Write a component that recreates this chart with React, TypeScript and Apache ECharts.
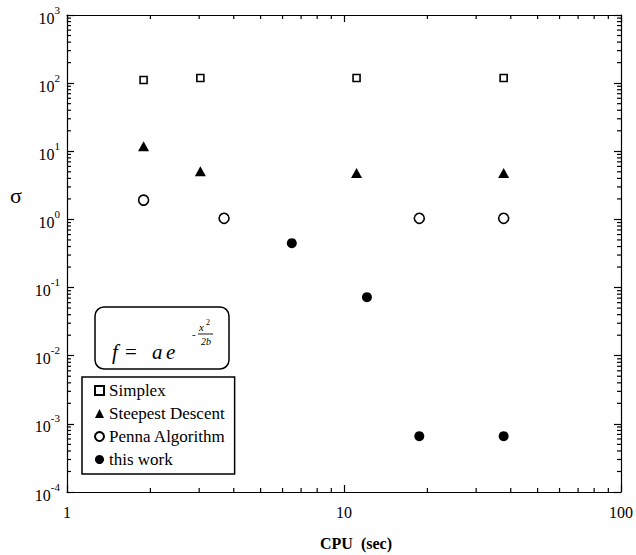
import React, { useEffect, useRef } from "react";
import * as echarts from "echarts";

const seriesNames = ["Simplex", "Steepest Descent", "Penna Algorithm", "this work"];
const cpuSimplex = [1.89, 3.03, 11.1, 37.7];
const sigmaSimplex = [111, 119, 119, 119];
const cpuSteepest = [1.89, 3.03, 11.1, 37.7];
const sigmaSteepest = [11.9, 5.1, 4.8, 4.8];
const cpuPenna = [1.89, 3.69, 18.7, 37.7];
const sigmaPenna = [1.92, 1.04, 1.04, 1.04];
const cpuThisWork = [6.48, 12.1, 18.7, 37.7];
const sigmaThisWork = [0.449, 0.0723, 0.00066, 0.00066];

const xMin = 1;
const xMax = 100;
const yMin = 1e-4;
const yMax = 1e3;
const xDecades = [1, 10];
const yDecades = [1e-4, 1e-3, 1e-2, 1e-1, 1, 10, 100];
const minorSteps = [2, 3, 4, 5, 6, 7, 8, 9];

const SERIF = "'Liberation Serif', 'Times New Roman', serif";

function zip(xs: number[], ys: number[]) {
  return xs.map((x, i) => [x, ys[i]]);
}

export default function App() {
  const ref = useRef<HTMLDivElement>(null);
  useEffect(() => {
    if (!ref.current) return;
    const chart = echarts.init(ref.current, undefined, { renderer: "svg" });

    const xMinor: number[][] = [];
    xDecades.forEach((d) => minorSteps.forEach((s) => xMinor.push([d * s, yMin])));
    const yMinor: number[][] = [];
    yDecades.forEach((d) => minorSteps.forEach((s) => yMinor.push([xMin, d * s])));

    const lineStyle = { color: "#000", width: 1.2 };
    const tickStyle = { show: true, inside: true, length: 7, lineStyle: { color: "#000", width: 1.2 } };

    const yLabel = (v: number) => {
      const e = Math.round(Math.log10(v));
      return "{b|10}{s|" + e + "}";
    };

    const option: any = {
      animation: false,
      backgroundColor: "#fff",
      grid: { left: 67, top: 15, right: 12, bottom: 63, containLabel: false },
      xAxis: [
        {
          type: "log", logBase: 10, min: xMin, max: xMax, interval: 1, position: "bottom",
          axisLine: { show: true, lineStyle },
          axisTick: tickStyle,
          splitLine: { show: false },
          axisLabel: { fontFamily: SERIF, fontSize: 16, color: "#000", margin: 12 },
        },
        {
          type: "log", logBase: 10, min: xMin, max: xMax, interval: 1, position: "top",
          axisLine: { show: true, lineStyle },
          axisTick: tickStyle,
          splitLine: { show: false },
          axisLabel: { show: false },
        },
      ],
      yAxis: [
        {
          type: "log", logBase: 10, min: yMin, max: yMax, interval: 1, position: "left",
          axisLine: { show: true, lineStyle },
          axisTick: tickStyle,
          splitLine: { show: false },
          axisLabel: {
            formatter: yLabel,
            margin: 7,
            rich: {
              b: { fontFamily: SERIF, fontSize: 16, color: "#000", lineHeight: 22, verticalAlign: "bottom" },
              s: { fontFamily: SERIF, fontSize: 11, color: "#000", lineHeight: 22, verticalAlign: "top" },
            },
          },
        },
        {
          type: "log", logBase: 10, min: yMin, max: yMax, interval: 1, position: "right",
          axisLine: { show: true, lineStyle },
          axisTick: tickStyle,
          splitLine: { show: false },
          axisLabel: { show: false },
        },
      ],
      legend: {
        orient: "vertical",
        left: 82,
        top: 377,
        data: seriesNames,
        backgroundColor: "#fff",
        borderColor: "#000",
        borderWidth: 1.5,
        borderRadius: 0,
        padding: [5, 9, 6, 12],
        itemGap: 6,
        itemWidth: 9,
        itemHeight: 9,
        itemTextGap: 14,
        textStyle: { fontFamily: SERIF, fontSize: 17, color: "#000", lineHeight: 16 },
      },
      series: [
        {
          type: "custom",
          name: "xminor",
          silent: true,
          clip: false,
          data: xMinor,
          renderItem: (params: any, api: any) => {
            const p = api.coord([api.value(0), yMin]);
            const cs = params.coordSys;
            const st = { stroke: "#000", lineWidth: 1.2 };
            return {
              type: "group",
              children: [
                { type: "line", shape: { x1: p[0], y1: cs.y + cs.height, x2: p[0], y2: cs.y + cs.height - 4 }, style: st },
                { type: "line", shape: { x1: p[0], y1: cs.y, x2: p[0], y2: cs.y + 4 }, style: st },
              ],
            };
          },
        },
        {
          type: "custom",
          name: "yminor",
          silent: true,
          clip: false,
          data: yMinor,
          renderItem: (params: any, api: any) => {
            const p = api.coord([xMin, api.value(1)]);
            const cs = params.coordSys;
            const st = { stroke: "#000", lineWidth: 1.2 };
            return {
              type: "group",
              children: [
                { type: "line", shape: { x1: cs.x, y1: p[1], x2: cs.x + 4, y2: p[1] }, style: st },
                { type: "line", shape: { x1: cs.x + cs.width, y1: p[1], x2: cs.x + cs.width - 4, y2: p[1] }, style: st },
              ],
            };
          },
        },
        {
          type: "scatter",
          name: seriesNames[0],
          data: zip(cpuSimplex, sigmaSimplex),
          symbol: "rect",
          symbolSize: 7,
          itemStyle: { color: "#fff", borderColor: "#000", borderWidth: 1.6, opacity: 1 },
        },
        {
          type: "scatter",
          name: seriesNames[1],
          data: zip(cpuSteepest, sigmaSteepest),
          symbol: "triangle",
          symbolSize: [11, 10],
          itemStyle: { color: "#000", opacity: 1 },
        },
        {
          type: "scatter",
          name: seriesNames[2],
          data: zip(cpuPenna, sigmaPenna),
          symbol: "circle",
          symbolSize: 10,
          itemStyle: { color: "#fff", borderColor: "#000", borderWidth: 1.6, opacity: 1 },
        },
        {
          type: "scatter",
          name: seriesNames[3],
          data: zip(cpuThisWork, sigmaThisWork),
          symbol: "circle",
          symbolSize: 10,
          itemStyle: { color: "#000", opacity: 1 },
        },
      ],
      graphic: [
        {
          type: "rect",
          shape: { x: 95, y: 307, width: 134, height: 62, r: 9 },
          style: { fill: "#fff", stroke: "#000", lineWidth: 1.5 },
          z: 10,
        },
        { type: "text", x: 112, y: 352, z: 11, style: { text: "f", font: "italic 21px " + SERIF, fill: "#000", verticalAlign: "middle" } },
        { type: "text", x: 125, y: 352, z: 11, style: { text: "=", font: "21px " + SERIF, fill: "#000", verticalAlign: "middle" } },
        { type: "text", x: 152, y: 352, z: 11, style: { text: "a", font: "italic 21px " + SERIF, fill: "#000", verticalAlign: "middle" } },
        { type: "text", x: 166, y: 352, z: 11, style: { text: "e", font: "italic 21px " + SERIF, fill: "#000", verticalAlign: "middle" } },
        { type: "text", x: 192, y: 334, z: 11, style: { text: "-", font: "11px " + SERIF, fill: "#000", verticalAlign: "middle" } },
        { type: "text", x: 199, y: 327, z: 11, style: { text: "x", font: "italic 11px " + SERIF, fill: "#000", verticalAlign: "middle" } },
        { type: "text", x: 206, y: 322, z: 11, style: { text: "2", font: "8px " + SERIF, fill: "#000", verticalAlign: "middle" } },
        { type: "line", z: 11, shape: { x1: 198, y1: 334, x2: 213, y2: 334 }, style: { stroke: "#000", lineWidth: 0.9 } },
        { type: "text", x: 201, y: 341, z: 11, style: { text: "2b", font: "italic 10px " + SERIF, fill: "#000", verticalAlign: "middle" } },
        { type: "text", x: 10, y: 195, style: { text: "σ", font: "22px " + SERIF, fill: "#000", verticalAlign: "middle" } },
        { type: "text", x: 320, y: 543, style: { text: "CPU  (sec)", font: "bold 16px " + SERIF, fill: "#000", verticalAlign: "middle" } },
      ],
    };
    chart.setOption(option);
    return () => chart.dispose();
  }, []);
  return (
    <div
      ref={ref}
      style={{ position: "absolute", left: 0, top: 0, width: 636, height: 555, background: "#fff" }}
    />
  );
}
